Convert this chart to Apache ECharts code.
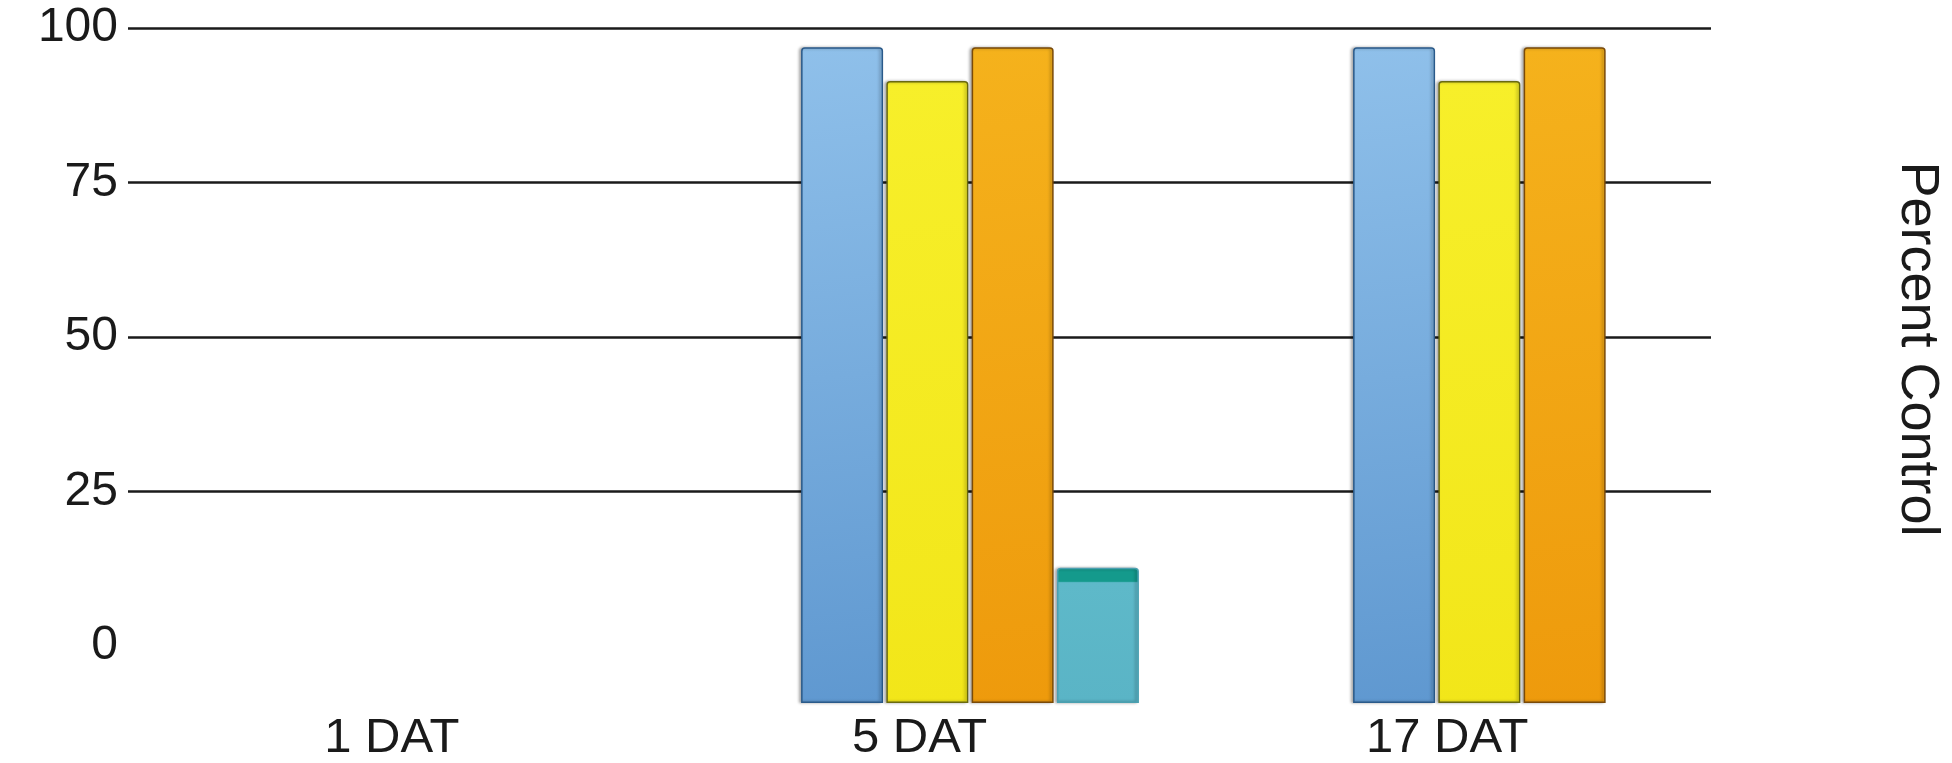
<!DOCTYPE html>
<html>
<head>
<meta charset="utf-8">
<script src="https://cdn.jsdelivr.net/npm/echarts@6/dist/echarts.min.js"></script>
<style>
html,body{margin:0;padding:0;background:#fff;}
#chart{width:1952px;height:763px;}
</style>
</head>
<body>
<div id="chart"></div>
<script>
const categories = ['1 DAT', '5 DAT', '17 DAT'];
const seriesBlue = [0, 97, 97];
const seriesYellow = [0, 92, 92];
const seriesOrange = [0, 97, 97];
const seriesTeal = [0, 20, 0];
const axisTitle = 'Percent Control';

const FONT = 'Liberation Sans, Arial, Helvetica, sans-serif';
const chart = echarts.init(document.getElementById('chart'), null, {renderer: 'canvas'});

function makeSeries(name, data, fill, border) {
  return {
    name: name,
    type: 'bar',
    xAxisIndex: 1,
    yAxisIndex: 1,
    data: data.map(v => ({value: v, itemStyle: v === 0 ? {opacity: 0} : {}})),
    barWidth: 82,
    barGap: '4%',
    itemStyle: {
      color: fill,
      borderColor: border,
      borderWidth: 1.5,
      borderRadius: [3, 3, 0, 0],
      shadowColor: 'rgba(0,0,0,0.3)',
      shadowBlur: 3,
      shadowOffsetX: -2
    }
  };
}

const option = {
  backgroundColor: '#ffffff',
  animation: false,
  grid: [
    {left: 128, right: 240, top: 28, bottom: 113},
    {left: 142, right: 154, top: 27, bottom: 60}
  ],
  xAxis: [
    {
      type: 'category', gridIndex: 0, data: categories,
      axisLine: {show: false}, axisTick: {show: false}, splitLine: {show: false},
      axisLabel: {fontFamily: FONT, fontSize: 49, color: '#1a1a1a', margin: 68}
    },
    {
      type: 'category', gridIndex: 1, data: categories,
      axisLine: {show: false}, axisTick: {show: false}, axisLabel: {show: false}, splitLine: {show: false}
    }
  ],
  yAxis: [
    {
      type: 'value', gridIndex: 0, min: 0, max: 100, interval: 25,
      axisLine: {show: false}, axisTick: {show: false},
      axisLabel: {show: true, fontFamily: FONT, fontSize: 48, color: '#1a1a1a', margin: 10},
      splitLine: {show: true, showMinLine: false, lineStyle: {color: '#1a1a1a', width: 2.5}}
    },
    {
      type: 'value', gridIndex: 1, min: 0, max: 100,
      axisLine: {show: false}, axisTick: {show: false}, axisLabel: {show: false}, splitLine: {show: false}
    },
    {
      type: 'value', gridIndex: 0, min: 0, max: 100, position: 'right',
      axisLine: {show: false}, axisTick: {show: false}, axisLabel: {show: false}, splitLine: {show: false},
      name: axisTitle, nameLocation: 'middle', nameRotate: -90, nameGap: 179,
      nameTextStyle: {fontFamily: FONT, fontSize: 54, color: '#1a1a1a', padding: [0, 0, 0, 24]}
    }
  ],
  series: [
    makeSeries('Series 1', seriesBlue, new echarts.graphic.LinearGradient(0, 0, 1, 1, [
      {offset: 0, color: '#8fc0ea'}, {offset: 1, color: '#5f98d0'}]), '#2a5a8a'),
    makeSeries('Series 2', seriesYellow, new echarts.graphic.LinearGradient(0, 0, 1, 1, [
      {offset: 0, color: '#f7ef2a'}, {offset: 1, color: '#f2e619'}]), '#6a6a10'),
    makeSeries('Series 3', seriesOrange, new echarts.graphic.LinearGradient(0, 0, 1, 1, [
      {offset: 0, color: '#f5b21c'}, {offset: 1, color: '#ee9a0c'}]), '#7a4a08'),
    makeSeries('Series 4', seriesTeal, new echarts.graphic.LinearGradient(0, 0, 0, 1, [
      {offset: 0, color: '#149a8c'}, {offset: 0.1, color: '#149a8c'}, {offset: 0.11, color: '#5eb9c9'}, {offset: 1, color: '#5ab4c6'}]), '#4aa0b0')
  ]
};
chart.setOption(option);
</script>
</body>
</html>
